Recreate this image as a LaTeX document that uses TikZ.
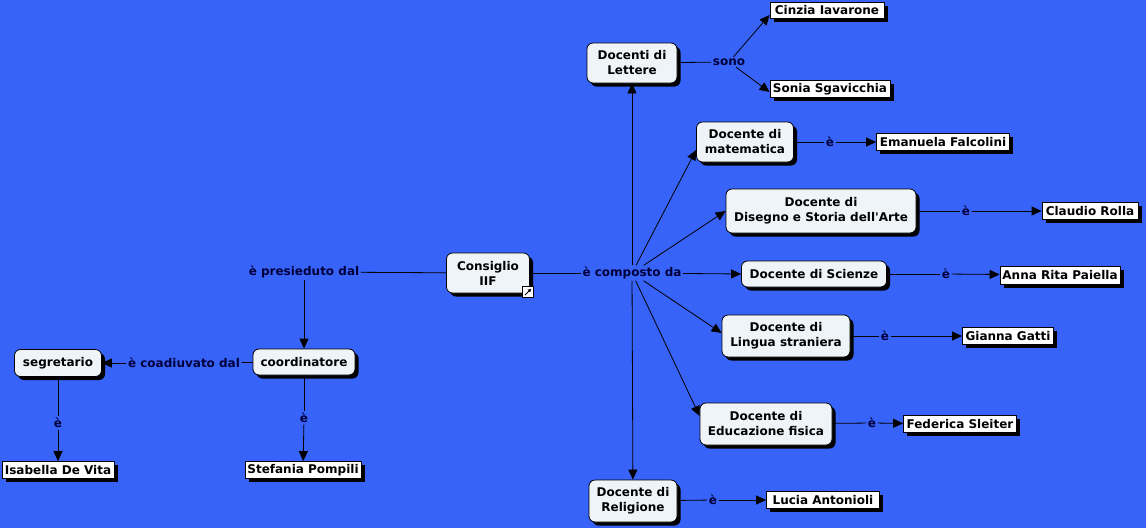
\documentclass[tikz,border=0pt]{standalone}
\usepackage{fontspec}
\setmainfont{DejaVu Sans}[Ligatures=TeXOff]
\usetikzlibrary{arrows.meta,shadows}
\definecolor{bg}{HTML}{3863F8}
\definecolor{cfill}{HTML}{EEF4F7}
\definecolor{ltext}{HTML}{00003A}
\begin{document}
\begin{tikzpicture}[x=1pt,y=-1pt,
 txt/.style={font=\bfseries\fontsize{12}{15}\selectfont},
 shad/.style={drop shadow={shadow xshift=3.5pt,shadow yshift=-3.5pt,fill=black,opacity=1}},
 concept/.style={txt, draw=black, line width=0.8pt, fill=cfill, rounded corners=6pt, align=center, inner sep=0pt, shad},
 leaf/.style={txt, draw=black, line width=0.8pt, fill=white, inner sep=0pt, minimum height=17pt, shad},
 link/.style={txt, text=ltext, inner sep=1.5pt},
 conn/.style={draw=black, line width=0.8pt},
 arr/.style={conn, -{Triangle[length=10pt,width=9pt]}}
]
\fill[bg] (0,0) rectangle (1146,528);
\useasboundingbox (0,0) rectangle (1146,528);

% concepts
\node[concept, minimum width=83pt, minimum height=40pt] (cons) at (488,273) {Consiglio\\IIF};
\node[concept, minimum width=90pt, minimum height=40pt] (lett) at (632,63) {Docenti di\\Lettere};
\node[concept, minimum width=97pt, minimum height=40pt] (mat) at (745,142) {Docente di\\matematica};
\node[concept, minimum width=190pt, minimum height=44pt] (dis) at (821,211) {Docente di\\Disegno e Storia dell'Arte};
\node[concept, minimum width=145pt, minimum height=26pt] (sci) at (814,274) {Docente di Scienze};
\node[concept, minimum width=128pt, minimum height=42pt] (ling) at (786,336) {Docente di\\Lingua straniera};
\node[concept, minimum width=132pt, minimum height=42pt] (edu) at (766,424) {Docente di\\Educazione fisica};
\node[concept, minimum width=88pt, minimum height=42pt] (rel) at (633,501) {Docente di\\Religione};
\node[concept, minimum width=102pt, minimum height=26pt] (coord) at (304,362) {coordinatore};
\node[concept, minimum width=87pt, minimum height=27pt] (segr) at (58,363) {segretario};

% icon on Consiglio
\node[draw=black, line width=0.6pt, fill=white, minimum size=11pt, inner sep=0pt] (icon) at (528,292) {};
\draw[black, line width=1pt, -{Triangle[length=3pt,width=3.5pt]}] ([xshift=-3pt,yshift=-3pt]icon.center) -- ([xshift=3pt,yshift=3pt]icon.center);

% leaves
\node[leaf, minimum width=114pt, minimum height=16pt] (cin) at (827,10) {Cinzia Iavarone};
\node[leaf, minimum width=120pt] (son) at (830,89) {Sonia Sgavicchia};
\node[leaf, minimum width=133pt] (ema) at (943,142) {Emanuela Falcolini};
\node[leaf, minimum width=96pt] (cla) at (1090,211) {Claudio Rolla};
\node[leaf, minimum width=120pt, minimum height=18pt] (ann) at (1060,275) {Anna Rita Paiella};
\node[leaf, minimum width=91pt] (gia) at (1008,336) {Gianna Gatti};
\node[leaf, minimum width=113pt] (fed) at (960,424) {Federica Sleiter};
\node[leaf, minimum width=113pt] (luc) at (823,500) {Lucia Antonioli};
\node[leaf, minimum width=112pt] (isa) at (58,470) {Isabella De Vita};
\node[leaf, minimum width=116pt] (ste) at (303,470) {Stefania Pompili};

% linking phrases
\node[link] (pres) at (304,272) {è presieduto dal};
\node[link] (comp) at (632,273) {è composto da};
\node[link] (sono) at (729,62) {sono};
\node[link] (e1) at (830,142) {è};
\node[link] (e2) at (966,211) {è};
\node[link] (e3) at (946,274) {è};
\node[link] (e4) at (885,336) {è};
\node[link] (e5) at (872,423) {è};
\node[link] (e6) at (713,500) {è};
\node[link] (coad) at (184,363) {è coadiuvato dal};
\node[link] (e7) at (58,423) {è};
\node[link] (e8) at (304,418) {è};

% connectors
\draw[conn] (cons) -- (pres);
\draw[arr] (pres) -- (coord);
\draw[conn] (coord) -- (coad);
\draw[arr] (coad) -- (segr);
\draw[conn] (segr) -- (e7);
\draw[arr] (e7) -- (isa);
\draw[conn] (coord) -- (e8);
\draw[arr] (e8) -- (ste);

\draw[conn] (cons) -- (comp);
\draw[arr] (comp) -- (lett);
\draw[arr] (comp) -- ([yshift=-8pt]mat.west);
\draw[arr] (comp) -- (dis.west);
\draw[arr] (comp) -- (sci.west);
\draw[arr] (comp) -- ([yshift=3pt]ling.west);
\draw[arr] (comp) -- ([yshift=8pt]edu.west);
\draw[arr] (comp) -- (rel);

\draw[conn] (lett) -- (sono);
\draw[arr] (sono) -- ([yshift=-5pt]cin.west);
\draw[arr] (sono) -- ([yshift=-3pt]son.west);

\draw[conn] (mat) -- (e1); \draw[arr] (e1) -- (ema);
\draw[conn] (dis) -- (e2); \draw[arr] (e2) -- (cla);
\draw[conn] (sci) -- (e3); \draw[arr] (e3) -- (ann);
\draw[conn] (ling) -- (e4); \draw[arr] (e4) -- (gia);
\draw[conn] (edu) -- (e5); \draw[arr] (e5) -- (fed);
\draw[conn] (rel) -- (e6); \draw[arr] (e6) -- (luc);
\end{tikzpicture}
\end{document}
